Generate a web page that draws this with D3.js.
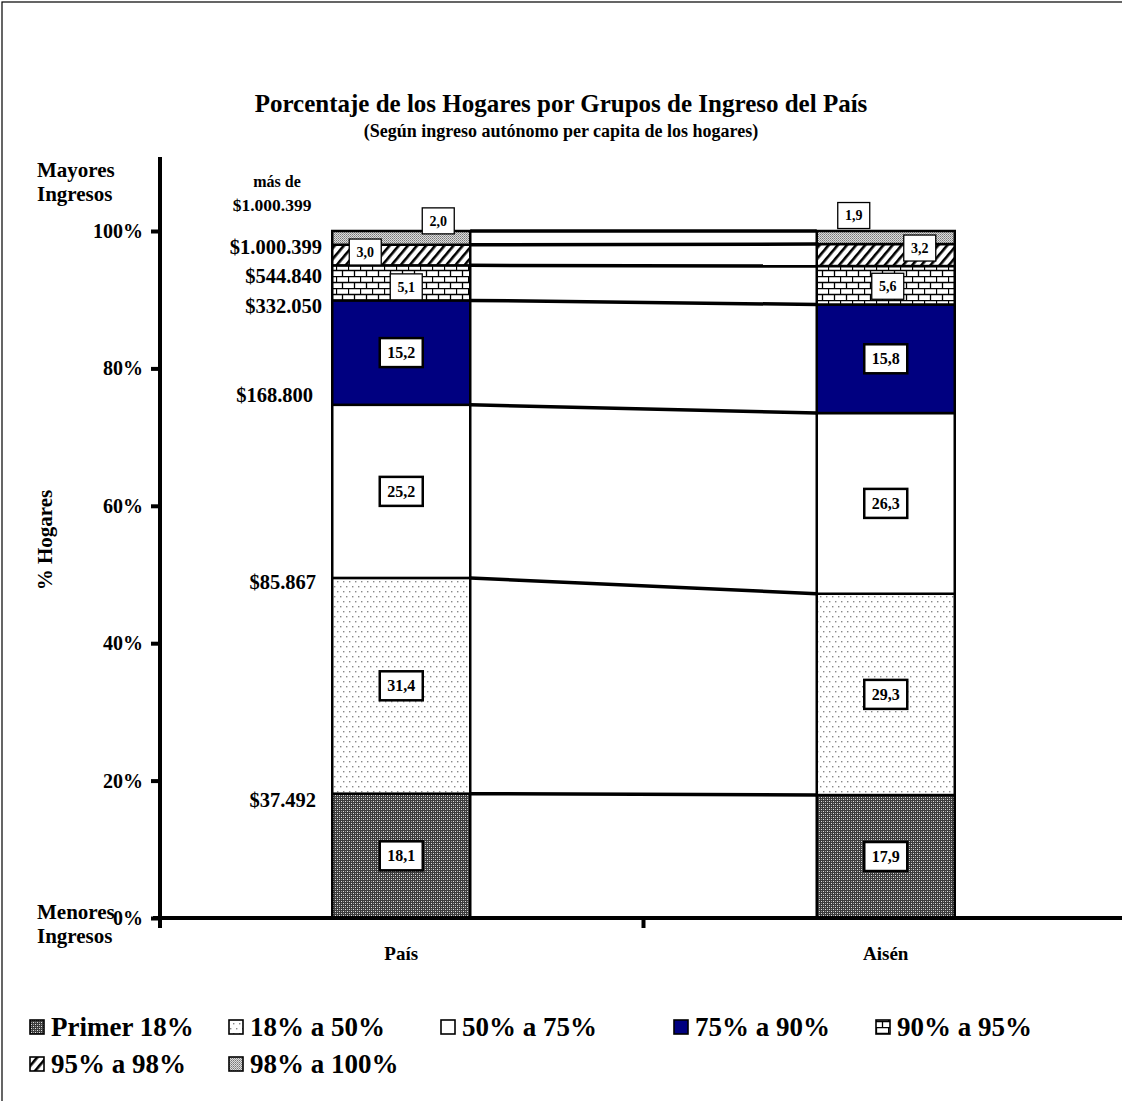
<!DOCTYPE html>
<html>
<head>
<meta charset="utf-8">
<script src="https://cdn.jsdelivr.net/npm/d3@7"></script>
<style>
  body { margin: 0; background: #fff; }
  svg text { font-family: "Liberation Serif", "Times New Roman", serif; font-weight: bold; }
</style>
</head>
<body>
<div id="chart"></div>
<script>
'use strict';

// data
var categories = ["País", "Aisén"];
var groups = ["Primer 18%", "18% a 50%", "50% a 75%", "75% a 90%", "90% a 95%", "95% a 98%", "98% a 100%"];
var paisValues = [18.1, 31.4, 25.2, 15.2, 5.1, 3.0, 2.0];
var aisenValues = [17.9, 29.3, 26.3, 15.8, 5.6, 3.2, 1.9];
var thresholds = ["$37.492", "$85.867", "$168.800", "$332.050", "$544.840", "$1.000.399"];
var yTicks = [0, 20, 40, 60, 80, 100];

// label nudges (px) for the small segments, per category / group
var labelNudge = [
	[[0,0],[0,0],[0,0],[0,0],[5,4],[-36,-3],[37,-17]],
	[[0,0],[0,0],[0,0],[0,0],[2,1],[34,-7],[-32,-22]]
];
var threshNudge = [6, 4, -10, 5, 10, 2];

var W = 1122, H = 1101;
var svg = d3.select("#chart").append("svg")
	.attr("width", W)
	.attr("height", H);

// patterns
var defs = svg.append("defs");
function pat(id, w, h)
{
	return defs.append("pattern").attr("id", id).attr("patternUnits", "userSpaceOnUse")
		.attr("width", w).attr("height", h);
}
var p0 = pat("p0", 4, 4);
p0.append("rect").attr("width", 4).attr("height", 4).attr("fill", "#3c3c3c");
p0.append("rect").attr("x", 1).attr("y", 1).attr("width", 1).attr("height", 1).attr("fill", "#e0e0e0");
p0.append("rect").attr("x", 3).attr("y", 3).attr("width", 1).attr("height", 1).attr("fill", "#e0e0e0");
p0.append("rect").attr("x", 3).attr("y", 1).attr("width", 1).attr("height", 1).attr("fill", "#9a9a9a");
p0.append("rect").attr("x", 1).attr("y", 3).attr("width", 1).attr("height", 1).attr("fill", "#9a9a9a");

var p1 = pat("p1", 6, 10);
p1.append("rect").attr("width", 6).attr("height", 10).attr("fill", "#fff");
p1.append("rect").attr("x", 1).attr("y", 1).attr("width", 1.4).attr("height", 1.4).attr("fill", "#888");
p1.append("rect").attr("x", 4).attr("y", 6).attr("width", 1.4).attr("height", 1.4).attr("fill", "#888");

var p4 = pat("p4", 12, 12);
p4.append("rect").attr("width", 12).attr("height", 12).attr("fill", "#fff");
p4.append("path").attr("d", "M0,0.5H12M0,6.5H12M0.5,0V6M6.5,6V12")
	.attr("stroke", "#000").attr("stroke-width", 1.3).attr("fill", "none");

var p5 = pat("p5", 7, 7).attr("patternTransform", "rotate(40)");
p5.append("rect").attr("width", 7).attr("height", 7).attr("fill", "#fff");
p5.append("rect").attr("width", 2.6).attr("height", 7).attr("fill", "#000");

var p6 = pat("p6", 2, 2);
p6.append("rect").attr("width", 2).attr("height", 2).attr("fill", "#ddd");
p6.append("rect").attr("width", 1).attr("height", 1).attr("fill", "#777");
p6.append("rect").attr("x", 1).attr("y", 1).attr("width", 1).attr("height", 1).attr("fill", "#999");

var fills = ["url(#p0)", "url(#p1)", "#fff", "#000080", "url(#p4)", "url(#p5)", "url(#p6)"];

// frame
svg.append("rect").attr("x", 2).attr("y", 2).attr("width", W + 20).attr("height", H + 20)
	.attr("fill", "none").attr("stroke", "#000").attr("stroke-width", 1.2);

// titles
svg.append("text").attr("x", 561).attr("y", 112).attr("text-anchor", "middle")
	.style("font-size", "25px").text("Porcentaje de los Hogares por Grupos de Ingreso del País");
svg.append("text").attr("x", 561).attr("y", 137).attr("text-anchor", "middle")
	.style("font-size", "18px").text("(Según ingreso autónomo per capita de los hogares)");

// scales
var x = d3.scaleBand().domain(categories).range([159, 1128]).padding(0);
var barW = 138;
var y = d3.scaleLinear().domain([0, 100]).range([918, 231]);

// stacked data
var allValues = [paisValues, aisenValues];
var stacks = allValues.map(function(vals, ci)
{
	var acc = 0;
	return vals.map(function(v, gi)
	{
		var d = { cat: categories[ci], ci: ci, gi: gi, v: v, y0: acc, y1: acc + v };
		acc += v;
		return d;
	});
});

// connecting lines
var conn = svg.append("g");
for (var gi = 0; gi < groups.length; gi++)
{
	var a = stacks[0][gi].y1, b = stacks[1][gi].y1;
	conn.append("line")
		.attr("x1", x(categories[0]) + x.bandwidth() / 2 + barW / 2)
		.attr("x2", x(categories[1]) + x.bandwidth() / 2 - barW / 2)
		.attr("y1", y(a)).attr("y2", y(b))
		.attr("stroke", "#000").attr("stroke-width", 3.5);
}

// bars
var bars = svg.append("g")
	.selectAll("g")
	.data(stacks)
	.enter()
	.append("g");

bars.selectAll("rect")
	.data(function(d) { return d; })
	.enter()
	.append("rect")
	.attr("x", function(d) { return x(d.cat) + x.bandwidth() / 2 - barW / 2; })
	.attr("y", function(d) { return y(d.y1); })
	.attr("width", barW)
	.attr("height", function(d) { return y(d.y0) - y(d.y1); })
	.attr("fill", function(d) { return fills[d.gi]; })
	.attr("stroke", "#000")
	.attr("stroke-width", 2.5);

// value labels
var labs = bars.selectAll("g.lab")
	.data(function(d) { return d; })
	.enter()
	.append("g")
	.attr("class", "lab")
	.attr("transform", function(d)
	{
		var n = labelNudge[d.ci][d.gi];
		return "translate(" + (x(d.cat) + x.bandwidth() / 2 + n[0]) + "," + (y((d.y0 + d.y1) / 2) + n[1]) + ")";
	});
labs.append("rect")
	.attr("x", function(d) { return d.v < 10 ? -16 : -21.5; })
	.attr("y", function(d) { return d.v < 10 ? -13 : -14.5; })
	.attr("width", function(d) { return d.v < 10 ? 32 : 43; })
	.attr("height", function(d) { return d.v < 10 ? 26 : 29; })
	.attr("fill", "#fff").attr("stroke", "#000")
	.attr("stroke-width", function(d) { return d.v < 10 ? 1.3 : 2.5; });
labs.append("text")
	.attr("text-anchor", "middle")
	.attr("dy", "0.35em")
	.style("font-size", function(d) { return d.v < 10 ? "14px" : "16px"; })
	.text(function(d) { return d3.format(".1f")(d.v).replace(".", ","); });

// threshold labels on the left
svg.append("g").selectAll("text")
	.data(thresholds)
	.enter()
	.append("text")
	.attr("x", function(d, i) { return i >= 3 ? 322 : (i == 2 ? 313 : 316); })
	.attr("y", function(d, i) { return y(stacks[0][i].y1) + threshNudge[i]; })
	.attr("dy", "0.35em")
	.attr("text-anchor", "end")
	.style("font-size", "20.5px")
	.text(function(d) { return d; });
svg.append("text").attr("x", 277).attr("y", 187).attr("text-anchor", "middle")
	.style("font-size", "16px").text("más de");
svg.append("text").attr("x", 272).attr("y", 211).attr("text-anchor", "middle")
	.style("font-size", "17.5px").text("$1.000.399");

// y axis
var yAxis = d3.axisLeft(y).tickValues(yTicks).tickSize(9).tickPadding(8)
	.tickFormat(function(d) { return d + "%"; });
var gy = svg.append("g").attr("transform", "translate(160,0)").call(yAxis);
gy.select(".domain").remove();
gy.selectAll(".tick line").attr("stroke", "#000").attr("stroke-width", 4);
gy.selectAll(".tick text").style("font-size", "20px").attr("fill", "#000")
	.attr("font-family", null).attr("font-size", null);
svg.append("line").attr("x1", 160).attr("x2", 160).attr("y1", 157).attr("y2", 928)
	.attr("stroke", "#000").attr("stroke-width", 4);

// x axis
var xAxis = d3.axisBottom(x).tickSize(0).tickPadding(29);
var gx = svg.append("g").attr("transform", "translate(0,918)").call(xAxis);
gx.select(".domain").remove();
gx.selectAll(".tick text").style("font-size", "19px").attr("fill", "#000")
	.attr("font-family", null).attr("font-size", null);
svg.append("line").attr("x1", 153).attr("x2", W).attr("y1", 918).attr("y2", 918)
	.attr("stroke", "#000").attr("stroke-width", 4);
svg.append("line").attr("x1", x(categories[1])).attr("x2", x(categories[1]))
	.attr("y1", 918).attr("y2", 928).attr("stroke", "#000").attr("stroke-width", 4);

// axis side labels
svg.append("text").attr("x", 37).attr("y", 177).style("font-size", "21px").text("Mayores");
svg.append("text").attr("x", 37).attr("y", 201).style("font-size", "21px").text("Ingresos");
svg.append("text").attr("x", 37).attr("y", 919).style("font-size", "21px").text("Menores");
svg.append("text").attr("x", 37).attr("y", 943).style("font-size", "21px").text("Ingresos");
svg.append("text").attr("transform", "translate(52,540) rotate(-90)").attr("text-anchor", "middle")
	.style("font-size", "21px").text("% Hogares");

// legend
var legendX = [30, 229, 441, 674, 876, 30, 229];
var legendY = [1027, 1027, 1027, 1027, 1027, 1064, 1064];
var leg = svg.append("g").selectAll("g")
	.data(groups)
	.enter()
	.append("g")
	.attr("transform", function(d, i) { return "translate(" + legendX[i] + "," + legendY[i] + ")"; });
leg.append("rect").attr("x", 0).attr("y", -7).attr("width", 14).attr("height", 14)
	.attr("fill", function(d, i) { return fills[i]; })
	.attr("stroke", "#000").attr("stroke-width", 1.6);
leg.append("text").attr("x", 21).attr("dy", "0.35em").style("font-size", "27px")
	.text(function(d) { return d; });
</script>
</body>
</html>
